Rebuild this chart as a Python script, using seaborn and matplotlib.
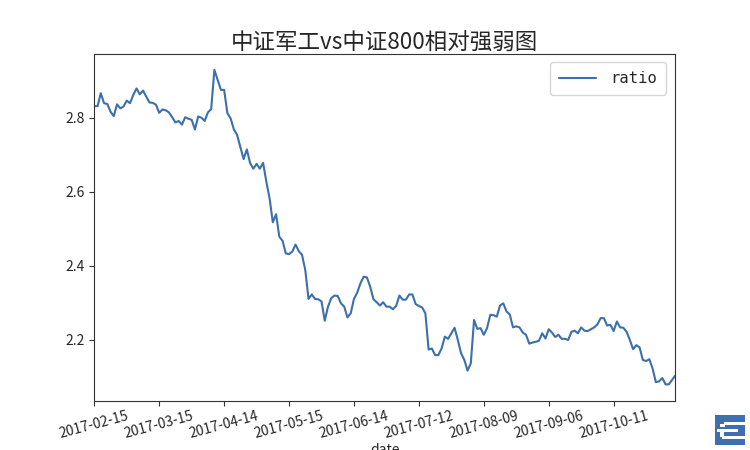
import numpy as np
import pandas as pd
import matplotlib
matplotlib.use('Agg')
import matplotlib.pyplot as plt
from matplotlib.patches import Rectangle
import seaborn as sns

# ratio values, one per trading day
ratio = [
    2.832, 2.832, 2.867, 2.840, 2.838, 2.817, 2.805, 2.837, 2.826, 2.831,
    2.847, 2.840, 2.862, 2.880, 2.864, 2.874, 2.858, 2.842, 2.841, 2.836,
    2.814, 2.823, 2.821, 2.815, 2.802, 2.788, 2.792, 2.782, 2.802, 2.798,
    2.795, 2.769, 2.804, 2.801, 2.792, 2.815, 2.824, 2.930, 2.903, 2.876,
    2.876, 2.813, 2.799, 2.769, 2.754, 2.721, 2.689, 2.715, 2.678, 2.663,
    2.676, 2.663, 2.679, 2.628, 2.583, 2.518, 2.540, 2.479, 2.468, 2.434,
    2.432, 2.439, 2.458, 2.440, 2.430, 2.389, 2.311, 2.323, 2.311, 2.310,
    2.304, 2.252, 2.290, 2.313, 2.320, 2.319, 2.299, 2.290, 2.261, 2.272,
    2.311, 2.328, 2.353, 2.371, 2.369, 2.344, 2.310, 2.302, 2.293, 2.302,
    2.290, 2.290, 2.283, 2.292, 2.320, 2.309, 2.309, 2.323, 2.323, 2.297,
    2.292, 2.288, 2.272, 2.174, 2.177, 2.159, 2.159, 2.177, 2.209, 2.203,
    2.218, 2.233, 2.200, 2.164, 2.146, 2.117, 2.137, 2.254, 2.230, 2.232,
    2.214, 2.232, 2.268, 2.267, 2.263, 2.293, 2.299, 2.277, 2.269, 2.234,
    2.237, 2.234, 2.220, 2.214, 2.190, 2.193, 2.195, 2.198, 2.218, 2.204,
    2.229, 2.220, 2.208, 2.214, 2.203, 2.203, 2.200, 2.222, 2.225, 2.218,
    2.234, 2.225, 2.224, 2.229, 2.234, 2.242, 2.259, 2.259, 2.239, 2.241,
    2.224, 2.250, 2.234, 2.233, 2.222, 2.200, 2.175, 2.186, 2.180, 2.146,
    2.143, 2.148, 2.123, 2.086, 2.088, 2.097, 2.080, 2.080, 2.092, 2.104,
]
tick_labels = ['2017-02-15', '2017-03-15', '2017-04-14', '2017-05-15', '2017-06-14',
               '2017-07-12', '2017-08-09', '2017-09-06', '2017-10-11']
tick_step = 20

df = pd.DataFrame({'day': np.arange(len(ratio)), 'ratio': ratio})

sns.set_style('ticks')
plt.rcParams['font.family'] = ['Noto Sans CJK SC', 'DejaVu Sans']

fig = plt.figure(figsize=(7.5, 4.5), dpi=100)
ax = fig.add_axes([94.3 / 750, 1 - 401 / 450, 581 / 750, 347 / 450])

sns.lineplot(data=df, x='day', y='ratio', color='#3c6fae', linewidth=1.5, label='ratio', ax=ax)

ax.set_xlim(0, len(ratio) - 1)
ax.set_ylim(2.035, 2.973)
ax.set_yticks([2.2, 2.4, 2.6, 2.8])
ax.set_xticks(np.arange(len(tick_labels)) * tick_step)
ax.set_xticklabels(tick_labels, rotation=15, ha='center', fontsize=10)
ax.tick_params(axis='y', labelsize=10, length=3.5, width=0.8, color='#333333')
ax.tick_params(axis='x', length=3.5, width=0.8, color='#333333', pad=2)
ax.set_xlabel('date', fontsize=10, labelpad=2)
ax.set_ylabel('')
ax.set_title('中证军工vs中证800相对强弱图', fontsize=16.2, pad=3.5)
for side in ax.spines.values():
    side.set_visible(True)
    side.set_linewidth(0.8)
    side.set_color('#333333')

ax.legend(loc='upper right', bbox_to_anchor=(0.984, 0.977), borderaxespad=0, frameon=True,
          handlelength=2.4, handletextpad=0.9, borderpad=0.58,
          prop={'family': 'DejaVu Sans Mono', 'size': 11.2})

# small logo in the corner
fig.add_artist(Rectangle((715 / 750, 1 - 445 / 450), 30 / 750, 30 / 450,
                         transform=fig.transFigure, color='#3f6fb0', lw=0))
for x0, y0, w, h in [(724, 422, 21, 3), (717, 429, 21, 3), (722, 436, 23, 3), (720, 424, 5, 3), (720, 432, 4, 5)]:
    fig.add_artist(Rectangle((x0 / 750, 1 - (y0 + h) / 450), w / 750, h / 450,
                             transform=fig.transFigure, color='white', lw=0))

fig.savefig('out.png', dpi=100)
